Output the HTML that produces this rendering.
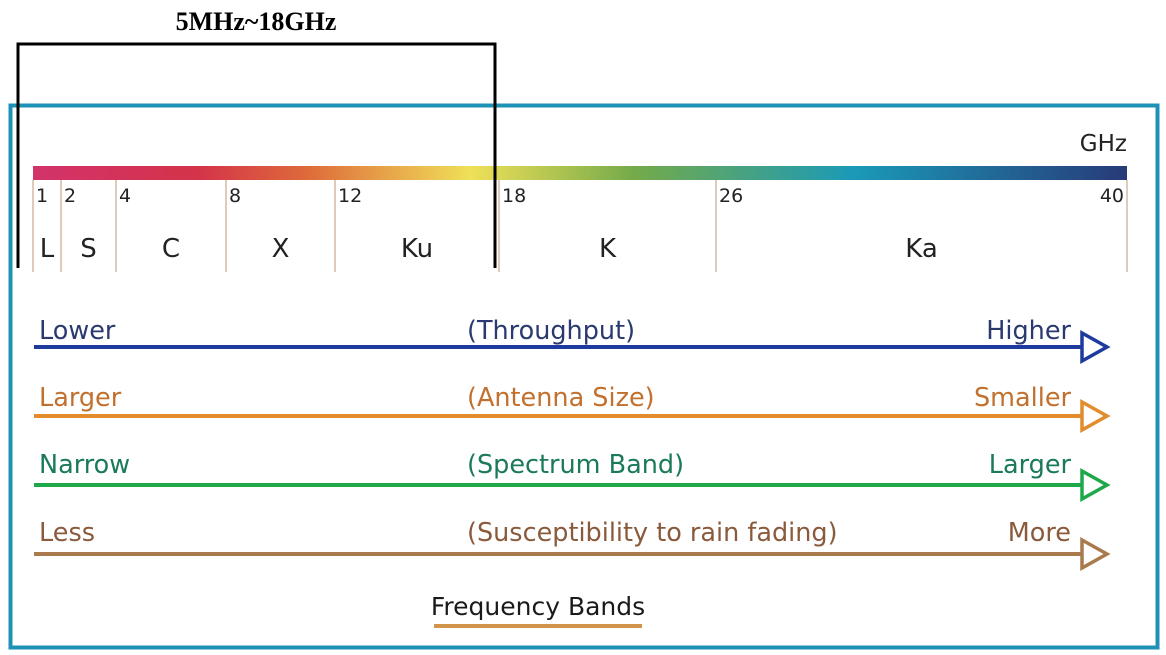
<!DOCTYPE html>
<html><head><meta charset="utf-8"><style>
html,body{margin:0;padding:0;background:#fff;width:1166px;height:655px;overflow:hidden}
svg{display:block;font-family:"DejaVu Sans","Liberation Sans",sans-serif}
</style></head><body>
<svg id="c" width="1166" height="655" viewBox="0 0 1166 655">
<defs>
<linearGradient id="g" x1="0" x2="1" y1="0" y2="0">
<stop offset="0" stop-color="#d2336a"/><stop offset="0.15" stop-color="#d4334a"/>
<stop offset="0.25" stop-color="#de6a3a"/><stop offset="0.4" stop-color="#f0e058"/>
<stop offset="0.55" stop-color="#74aa4a"/><stop offset="0.75" stop-color="#1a9ab8"/>
<stop offset="1" stop-color="#283a78"/></linearGradient></defs>
<rect x="10.5" y="105.5" width="1147" height="542" fill="none" stroke="#1e92b6" stroke-width="4"/>
<text x="1127" y="151" font-size="23" fill="#222" text-anchor="end">GHz</text>
<rect x="33" y="166" width="1094" height="14" fill="url(#g)"/>
<g id="ticks"></g>
<g id="arrows"></g>
<text x="538" y="615" font-size="25" fill="#1a1a1a" text-anchor="middle">Frequency Bands</text>
<rect x="434" y="624" width="208" height="4" fill="#d0944a"/>
<path d="M18 268 V44 H495 V268" fill="none" stroke="#000" stroke-width="3"/>
<text x="256" y="30" font-size="26" font-weight="bold" font-family="Liberation Serif,serif" text-anchor="middle">5MHz~18GHz</text>
</svg>
<script>
const tickValues=[1,2,4,8,12,18,26,40];
const bandNames=["L","S","C","X","Ku","K","Ka"];
const rowLeft=["Lower","Larger","Narrow","Less"];
const rowMid=["(Throughput)","(Antenna Size)","(Spectrum Band)","(Susceptibility to rain fading)"];
const rowRight=["Higher","Smaller","Larger","More"];
const anchorsF=[1,2,4,8,12,18,26,40], anchorsX=[33,61,116,226,335,499,716,1127];
function xs(v){for(let i=0;i<anchorsF.length-1;i++){if(v<=anchorsF[i+1]){const t=(v-anchorsF[i])/(anchorsF[i+1]-anchorsF[i]);return anchorsX[i]+t*(anchorsX[i+1]-anchorsX[i]);}}return anchorsX[anchorsX.length-1];}
const NS="http://www.w3.org/2000/svg";
function mk(tag,at,parent,txt){const e=document.createElementNS(NS,tag);for(const k in at)e.setAttribute(k,at[k]);if(txt!==undefined)e.textContent=txt;parent.appendChild(e);return e;}
const tg=document.getElementById('ticks');
tickValues.forEach((v,i)=>{const x=xs(v);
 const l=mk('line',{x1:x,x2:x,y1:180,y2:272,stroke:'#e0cbb8','stroke-width':2},tg);
 
 
 const last=i===tickValues.length-1;
 const t=mk('text',{x:last?x-3:x+3,y:202,'font-size':19,fill:'#222','text-anchor':last?'end':'start'},tg,String(v));
 
 
 if(i<bandNames.length){const m=(x+xs(tickValues[i+1]))/2;
  const b=mk('text',{x:m,y:257,'font-size':26,fill:'#222','text-anchor':'middle'},tg,bandNames[i]);
  
  }
});
const lineCol=["#1e3a9e","#e28c2c","#1ea84a","#a87a4c"];
const textCol=["#2a3a70","#c2702e","#1a7a5a","#8a5a3c"];
const rowTextY=[339,406,473,541], rowLineY=[347,416,485,554];
const ag=document.getElementById('arrows');
rowLeft.forEach((s,i)=>{const y=rowLineY[i],c=lineCol[i];
 const ln=mk('line',{x1:34,x2:1090,y1:y,y2:y,stroke:c,'stroke-width':4},ag);
 
 
 const hd=mk('path',{d:`M1082 ${y-14} L1107 ${y} L1082 ${y+14} Z`,fill:'#fff',stroke:c,'stroke-width':3.5,'stroke-linejoin':'miter'},ag);
 
 
 const a=mk('text',{x:39,y:rowTextY[i],'font-size':25.5,fill:textCol[i]},ag,s);
 
 
 const b=mk('text',{x:467,y:rowTextY[i],'font-size':25.5,fill:textCol[i]},ag,rowMid[i]);
 
 
 const r=mk('text',{x:1071,y:rowTextY[i],'font-size':25.5,fill:textCol[i],'text-anchor':'end'},ag,rowRight[i]);
 
 
});
</script>
</body></html>
